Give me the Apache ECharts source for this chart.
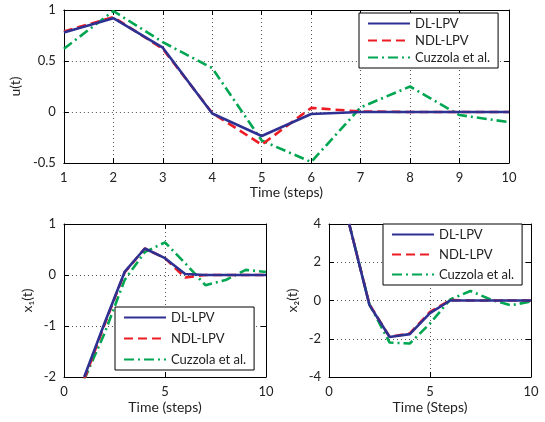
<!DOCTYPE html>
<html><head><meta charset="utf-8">
<script src="https://cdn.jsdelivr.net/npm/echarts@6/dist/echarts.min.js"></script>
<style>html,body{margin:0;padding:0;background:#fff}#c{width:545px;height:422px}</style>
</head><body><div id="c"></div>
<script>
// ---- data ----
var steps = [1,2,3,4,5,6,7,8,9,10];
var seriesNames = ['DL-LPV','NDL-LPV','Cuzzola et al.'];
// u(t)
var uDL   = [0.78,0.92,0.63,-0.015,-0.235,-0.02,0,0,0,0];
var uNDL  = [0.79,0.93,0.62,-0.01,-0.32,0.04,0.005,0,0,0];
var uCuz  = [0.62,0.99,0.685,0.43,-0.28,-0.49,0.045,0.25,-0.03,-0.10];
// x1(t)
var x1DL  = [-2.0,-0.95,0.06,0.52,0.33,0.02,0,0,0,0];
var x1NDL = [-2.05,-0.98,0.05,0.52,0.33,-0.05,0,0,0,0];
var x1Cuz = [-2.05,-1.15,-0.1,0.45,0.64,0.23,-0.2,-0.1,0.1,0.06];
// x2(t)
var x2DL  = [4.0,-0.23,-1.91,-1.76,-0.66,0,0,0,0,0];
var x2NDL = [4.0,-0.2,-1.9,-1.72,-0.6,0.02,0,0,0,0];
var x2Cuz = [4.0,-0.2,-2.2,-2.25,-1.2,0.05,0.5,0.05,-0.25,-0.05];
// ticks
var uTicksX = {min:1,max:10,interval:1};
var uTicksY = {min:-0.5,max:1,interval:0.5};
var x1TicksX = {min:0,max:10,interval:5};
var x1TicksY = {min:-2,max:1,interval:1};
var x2TicksX = {min:0,max:10,interval:5};
var x2TicksY = {min:-4,max:4,interval:2};

// ---- styles ----
var FONT = 'Lato';
var colors = ['#2e3192','#ed1c24','#00a651'];
var lineTypes = ['solid',[9,5],[10,4,2,4]];
function pairs(v){return steps.map(function(s,i){return [s,v[i]];});}

var grids = [
  {left:62, top:10, width:447, height:153},
  {left:64, top:224, width:202, height:153},
  {left:329, top:224, width:202, height:153}
];
var xCfg = [uTicksX,x1TicksX,x2TicksX];
var yCfg = [uTicksY,x1TicksY,x2TicksY];
var xNames = ['Time (steps)','Time (steps)','Time (Steps)'];
var yNames = ['u(t)','x\u2081(t)','x\u2082(t)'];
var yGaps = [34,30,30];

var xAxis=[], yAxis=[];
grids.forEach(function(g,i){
  xAxis.push({type:'value',gridIndex:i,min:xCfg[i].min,max:xCfg[i].max,interval:xCfg[i].interval,
    position:'bottom',name:xNames[i],nameLocation:'middle',nameGap:i===0?22:23,
    nameTextStyle:{fontFamily:FONT,fontSize:14,color:'#222'},
    axisLine:{onZero:false,lineStyle:{color:'#000',width:1}},
    axisTick:{inside:true,length:5,lineStyle:{color:'#000'}},
    axisLabel:{fontFamily:FONT,fontSize:13,color:'#222',margin:8},
    splitLine:{show:true,lineStyle:{color:'#555',type:[1,3],width:1}}});
  xAxis.push({type:'value',gridIndex:i,min:xCfg[i].min,max:xCfg[i].max,interval:xCfg[i].interval,
    position:'top',axisLine:{onZero:false,lineStyle:{color:'#000',width:1}},
    axisTick:{inside:true,length:5,lineStyle:{color:'#000'}},axisLabel:{show:false},splitLine:{show:false}});
  yAxis.push({type:'value',gridIndex:i,min:yCfg[i].min,max:yCfg[i].max,interval:yCfg[i].interval,
    position:'left',name:yNames[i],nameLocation:'middle',nameGap:yGaps[i],nameRotate:90,
    nameTextStyle:{fontFamily:FONT,fontSize:14,color:'#222'},
    axisLine:{show:true,onZero:false,lineStyle:{color:'#000',width:1}},
    axisTick:{show:true,inside:true,length:5,lineStyle:{color:'#000'}},
    axisLabel:{fontFamily:FONT,fontSize:13,color:'#222',margin:8},
    splitLine:{show:true,lineStyle:{color:'#555',type:[1,3],width:1}}});
  yAxis.push({type:'value',gridIndex:i,min:yCfg[i].min,max:yCfg[i].max,interval:yCfg[i].interval,
    position:'right',axisLine:{show:true,onZero:false,lineStyle:{color:'#000',width:1}},
    axisTick:{show:true,inside:true,length:5,lineStyle:{color:'#000'}},axisLabel:{show:false},splitLine:{show:false}});
});

var dataSets = [[uDL,uNDL,uCuz],[x1DL,x1NDL,x1Cuz],[x2DL,x2NDL,x2Cuz]];
var series=[];
dataSets.forEach(function(ds,gi){
  ds.forEach(function(v,k){
    series.push({type:'line',name:seriesNames[k],xAxisIndex:gi*2,yAxisIndex:gi*2,
      data:pairs(v),symbol:'none',showSymbol:false,clip:true,silent:true,z:10-k,
      lineStyle:{color:colors[k],width:2.6,type:lineTypes[k]},itemStyle:{color:colors[k]}});
  });
});

function legend(left,top,gap){
  return {orient:'vertical',left:left,top:top,data:seriesNames,
    itemWidth:42,itemHeight:14,itemGap:gap,padding:[4,8,4,8],
    itemStyle:{opacity:0,borderWidth:0},
    backgroundColor:'#fff',borderColor:'#000',borderWidth:1,selectedMode:false,
    textStyle:{fontFamily:FONT,fontSize:13,color:'#222'}};
}

var chart = echarts.init(document.getElementById('c'),null,{renderer:'canvas'});
chart.setOption({
  animation:false,
  backgroundColor:'#fff',
  grid:grids,
  xAxis:xAxis,
  yAxis:yAxis,
  legend:[legend(359,13,4),legend(115,307,8),legend(383,224,7)],
  series:series
});
</script></body></html>
